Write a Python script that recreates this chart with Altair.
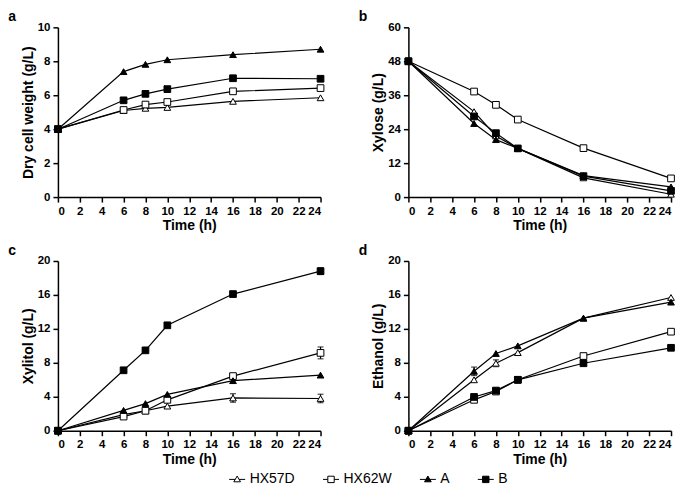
import altair as alt
import pandas as pd

times = [0, 6, 8, 10, 16, 24]
series = ["HX57D", "HX62W", "A", "B"]

# Dry cell weight (g/L)
dcw_hx57d = [4.0, 5.10, 5.23, 5.28, 5.64, 5.85]
dcw_hx62w = [4.0, 5.13, 5.45, 5.60, 6.23, 6.42]
dcw_a = [4.0, 7.39, 7.82, 8.09, 8.39, 8.71]
dcw_b = [4.0, 5.70, 6.08, 6.36, 7.00, 6.97]

# Xylose (g/L)
xyl_hx57d = [48.0, 30.2, 21.6, 17.2, 6.8, 1.0]
xyl_hx62w = [48.0, 37.3, 32.6, 27.4, 17.3, 6.6]
xyl_a = [48.0, 26.0, 20.3, 17.2, 7.6, 3.6]
xyl_b = [48.0, 28.5, 22.6, 17.2, 7.4, 2.2]

# Xylitol (g/L)
xol_hx57d = [0.0, 1.90, 2.35, 2.90, 3.86, 3.80]
xol_hx62w = [0.0, 1.67, 2.35, 3.64, 6.44, 9.17]
xol_a = [0.0, 2.40, 3.20, 4.28, 5.90, 6.55]
xol_b = [0.0, 7.12, 9.47, 12.42, 16.10, 18.80]
xol_err_hx57d = [0, 0, 0, 0, 0.5, 0.5]
xol_err_hx62w = [0, 0, 0, 0, 0, 0.7]
xol_err_a = [0, 0, 0, 0, 0, 0]
xol_err_b = [0, 0, 0, 0, 0, 0.4]

# Ethanol (g/L)
eth_hx57d = [0.0, 6.00, 7.95, 9.20, 13.26, 15.70]
eth_hx62w = [0.0, 3.64, 4.62, 6.00, 8.80, 11.67]
eth_a = [0.0, 7.00, 9.10, 10.00, 13.26, 15.15]
eth_b = [0.0, 3.98, 4.73, 6.00, 7.95, 9.77]
eth_err_hx57d = [0, 0, 0.4, 0, 0, 0]
eth_err_hx62w = [0, 0, 0, 0, 0, 0]
eth_err_a = [0, 0.5, 0, 0, 0, 0]
eth_err_b = [0, 0, 0, 0, 0, 0]

zero = [0, 0, 0, 0, 0, 0]

FONT = "Liberation Sans"

# legend symbols: short line with marker on it
legend_paths = [
    "M-1,0H-0.245M0.245,0H1M0,-0.42L0.42,0.3H-0.42Z",
    "M-1,0H-0.4M0.4,0H1M-0.4,-0.4H0.4V0.4H-0.4Z",
    "M-1,0H-0.245M0.245,0H1M0,-0.42L0.42,0.3H-0.42Z",
    "M-1,0H-0.4M0.4,0H1M-0.4,-0.4H0.4V0.4H-0.4Z",
]
fills = ["white", "white", "black", "black"]
strokes = ["black", "black", "black", "black"]

leg = alt.Legend(
    title=None,
    orient="none",
    legendX=171,
    legendY=0,
    direction="horizontal",
    labelFont=FONT,
    labelFontSize=14,
    labelFontWeight="normal",
    labelColor="black",
    symbolSize=256,
    symbolStrokeWidth=1,
    symbolStrokeColor="black",
    symbolOpacity=1,
    columnPadding=25,
    labelOffset=4,
)


def make_df(vals, errs):
    rows = []
    for s, v, e in zip(series, vals, errs):
        for t, y, er in zip(times, v, e):
            rows.append({"t": t, "series": s, "v": y, "lo": y - er, "hi": y + er, "err": er})
    return pd.DataFrame(rows)


def panel(vals, errs, ytitle, ymax, ystep, label):
    df = make_df(vals, errs)
    xaxis = alt.Axis(values=list(range(0, 25, 2)), title="Time (h)")
    yaxis = alt.Axis(values=list(range(0, ymax + 1, ystep)), title=ytitle)
    xs = alt.Scale(domain=[0, 24], nice=False)
    ys = alt.Scale(domain=[0, ymax], nice=False)
    x = alt.X("t:Q", scale=xs, axis=xaxis)
    y = alt.Y("v:Q", scale=ys, axis=yaxis)
    base = alt.Chart(df)
    lines = base.mark_line(color="black", strokeWidth=1.2).encode(x=x, y=y, detail="series:N")
    ebars = base.transform_filter("datum.err > 0").mark_errorbar(
        ticks=alt.TickConfig(size=6, thickness=1.2), color="black", thickness=1.2
    ).encode(x=x, y=alt.Y("lo:Q", scale=ys, axis=yaxis), y2="hi:Q")
    pts = base.mark_point(filled=True, size=45, stroke="black", strokeWidth=1, opacity=1).encode(
        x=x, y=y,
        shape=alt.Shape("series:N", scale=alt.Scale(domain=series,
                        range=["triangle-up", "square", "triangle-up", "square"]), legend=None),
        fill=alt.Fill("series:N", scale=alt.Scale(domain=series, range=fills), legend=None),
    )
    return alt.layer(lines, ebars, pts).properties(
        width=263, height=170,
        title=alt.TitleParams(label, anchor="start", frame="bounds", dx=-13,
                              fontSize=14, fontWeight="bold", font=FONT, offset=-3),
    )


pa = panel([dcw_hx57d, dcw_hx62w, dcw_a, dcw_b], [zero] * 4, "Dry cell weight (g/L)", 10, 2, "a")
pb = panel([xyl_hx57d, xyl_hx62w, xyl_a, xyl_b], [zero] * 4, "Xylose (g/L)", 60, 12, "b")
pc = panel([xol_hx57d, xol_hx62w, xol_a, xol_b],
           [xol_err_hx57d, xol_err_hx62w, xol_err_a, xol_err_b], "Xylitol (g/L)", 20, 4, "c")
pd_ = panel([eth_hx57d, eth_hx62w, eth_a, eth_b],
            [eth_err_hx57d, eth_err_hx62w, eth_err_a, eth_err_b], "Ethanol (g/L)", 20, 4, "d")

grid = alt.concat(pa, pb, pc, pd_, columns=2, spacing={"column": 32, "row": 11})

legend_chart = alt.Chart(pd.DataFrame({"series": series})).transform_filter("false").mark_point(
    filled=True, stroke="black", strokeWidth=1
).encode(
    shape=alt.Shape("series:N", scale=alt.Scale(domain=series, range=legend_paths), legend=leg),
    fill=alt.Fill("series:N", scale=alt.Scale(domain=series, range=fills), legend=leg),
    stroke=alt.Stroke("series:N", scale=alt.Scale(domain=series, range=strokes), legend=leg),
).properties(width=1, height=1)

chart = alt.vconcat(grid, legend_chart, spacing=4).resolve_scale(
    shape="independent", fill="independent", stroke="independent"
).properties(
    padding={"left": 0, "top": 2, "right": 0, "bottom": 0},
    background="white",
).configure_view(stroke=None).configure_axis(
    grid=False,
    domainColor="black",
    domainWidth=1.5,
    tickColor="black",
    tickWidth=1.5,
    tickSize=5,
    labelFont=FONT,
    labelFontSize=11.5,
    labelFontWeight="bold",
    labelColor="black",
    labelPadding=3,
    labelOverlap=False,
    titleFont=FONT,
    titleFontSize=14,
    titleFontWeight="bold",
    titleColor="black",
    titlePadding=2,
)

chart.save("out.html", embed_options={"renderer": "svg", "actions": False})
